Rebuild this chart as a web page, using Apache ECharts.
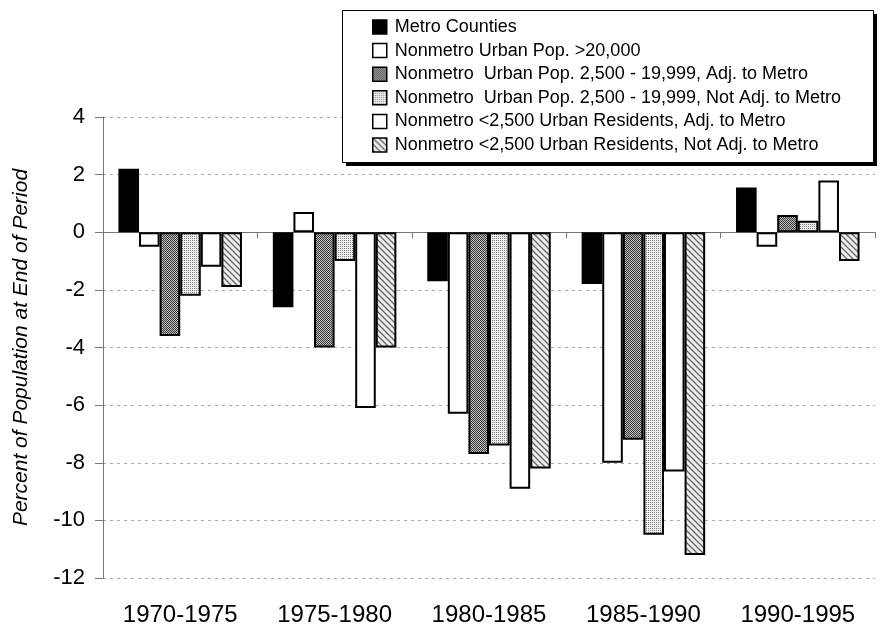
<!DOCTYPE html>
<html>
<head>
<meta charset="utf-8">
<script src="https://cdn.jsdelivr.net/npm/echarts@6/dist/echarts.min.js"></script>
<style>html,body{margin:0;padding:0;background:#fff}#c{width:880px;height:629px}</style>
</head>
<body>
<div id="c"></div>
<script>
var categories = ['1970-1975', '1975-1980', '1980-1985', '1985-1990', '1990-1995'];
var seriesNames = [
  'Metro Counties',
  'Nonmetro Urban Pop. >20,000',
  'Nonmetro  Urban Pop. 2,500 - 19,999, Adj. to Metro',
  'Nonmetro  Urban Pop. 2,500 - 19,999, Not Adj. to Metro',
  'Nonmetro <2,500 Urban Residents, Adj. to Metro',
  'Nonmetro <2,500 Urban Residents, Not Adj. to Metro'
];
var metro       = [2.2, -2.6, -1.7, -1.8, 1.55];
var urban20k    = [-0.5, 0.7, -6.3, -8.0, -0.5];
var urbanAdj    = [-3.6, -4.0, -7.7, -7.2, 0.6];
var urbanNotAdj = [-2.2, -1.0, -7.4, -10.5, 0.4];
var ruralAdj    = [-1.2, -6.1, -8.9, -8.3, 1.8];
var ruralNotAdj = [-1.9, -4.0, -8.2, -11.2, -1.0];
var yTicks = [-12, -10, -8, -6, -4, -2, 0, 2, 4];

function tile(w, h, draw) {
  var c = document.createElement('canvas');
  c.width = w; c.height = h;
  var g = c.getContext('2d');
  draw(g, w, h);
  return c;
}
var darkDots = tile(2, 2, function (g) {
  g.fillStyle = '#c0c0c0'; g.fillRect(0, 0, 2, 2);
  g.fillStyle = '#383838'; g.fillRect(0, 0, 1, 1); g.fillRect(1, 1, 1, 1);
});
var lightDots = tile(2, 2, function (g) {
  g.fillStyle = '#f0f0f0'; g.fillRect(0, 0, 2, 2);
  g.fillStyle = '#808080'; g.fillRect(0, 0, 1, 1);
});
var hatch = tile(6, 6, function (g) {
  g.fillStyle = '#eeeeee'; g.fillRect(0, 0, 6, 6);
  g.strokeStyle = '#666666'; g.lineWidth = 1.3;
  g.beginPath();
  g.moveTo(-1, -1); g.lineTo(7, 7);
  g.moveTo(-1, 5); g.lineTo(1, 7);
  g.moveTo(5, -1); g.lineTo(7, 1);
  g.stroke();
});

var fills = [
  '#000000',
  '#ffffff',
  { image: darkDots, repeat: 'repeat' },
  { image: lightDots, repeat: 'repeat' },
  '#ffffff',
  { image: hatch, repeat: 'repeat' }
];
var values = [metro, urban20k, urbanAdj, urbanNotAdj, ruralAdj, ruralNotAdj];

var FONT = "'Liberation Sans', Arial, sans-serif";

var series = values.map(function (v, i) {
  return {
    name: seriesNames[i],
    type: 'bar',
    data: v,
    xAxisIndex: 0,
    barGap: '0%',
    barCategoryGap: '20%',
    itemStyle: { color: fills[i], borderColor: '#000', borderWidth: 2 }
  };
});

var chart = echarts.init(document.getElementById('c'), null, { renderer: 'canvas' });
chart.setOption({
  animation: false,
  backgroundColor: '#fff',
  textStyle: { fontFamily: FONT },
  grid: { left: 103, right: 5, top: 117, bottom: 51, containLabel: false },
  graphic: [
    { type: 'rect', z: 10, shape: { x: 346, y: 14, width: 531, height: 152 }, style: { fill: '#000' } },
    { type: 'rect', z: 11, shape: { x: 342.5, y: 10.5, width: 531, height: 152 }, style: { fill: '#fff', stroke: '#000', lineWidth: 1 } }
  ],
  legend: {
    z: 20,
    orient: 'vertical',
    left: 342,
    top: 10,
    padding: [8, 0, 11, 30],
    icon: 'rect',
    itemWidth: 14,
    itemHeight: 14,
    itemGap: 5.6,
    backgroundColor: 'transparent',
    borderWidth: 0,
    itemStyle: { borderColor: '#000', borderWidth: 1.5 },
    textStyle: { fontFamily: FONT, fontSize: 18, color: '#000', lineHeight: 18, padding: [0, 0, 0, 3] },
    data: seriesNames
  },
  xAxis: [
    {
      type: 'category',
      data: categories,
      position: 'bottom',
      axisLine: { show: false, onZero: false },
      axisTick: { show: false },
      axisLabel: { fontFamily: FONT, fontSize: 24, color: '#000', margin: 25 }
    },
    {
      type: 'category',
      data: categories,
      position: 'top',
      axisLine: { show: true, onZero: true, lineStyle: { color: '#777', width: 1 } },
      axisTick: { show: true, inside: true, length: 6, lineStyle: { color: '#777' } },
      axisLabel: { show: false },
      splitLine: { show: false }
    }
  ],
  yAxis: {
    type: 'value',
    min: yTicks[0],
    max: yTicks[yTicks.length - 1],
    interval: 2,
    name: 'Percent of Population at End of Period',
    nameLocation: 'middle',
    nameGap: 71,
    nameTextStyle: { fontFamily: FONT, fontStyle: 'italic', fontSize: 21, color: '#000' },
    axisLine: { show: true, onZero: false, lineStyle: { color: '#777', width: 1 } },
    axisTick: { show: true, length: 8, lineStyle: { color: '#777' } },
    axisLabel: { fontFamily: FONT, fontSize: 22, color: '#000', margin: 18 },
    splitLine: { show: true, lineStyle: { color: '#aaa', width: 1, type: [3, 4] } }
  },
  series: series
});
</script>
</body>
</html>
